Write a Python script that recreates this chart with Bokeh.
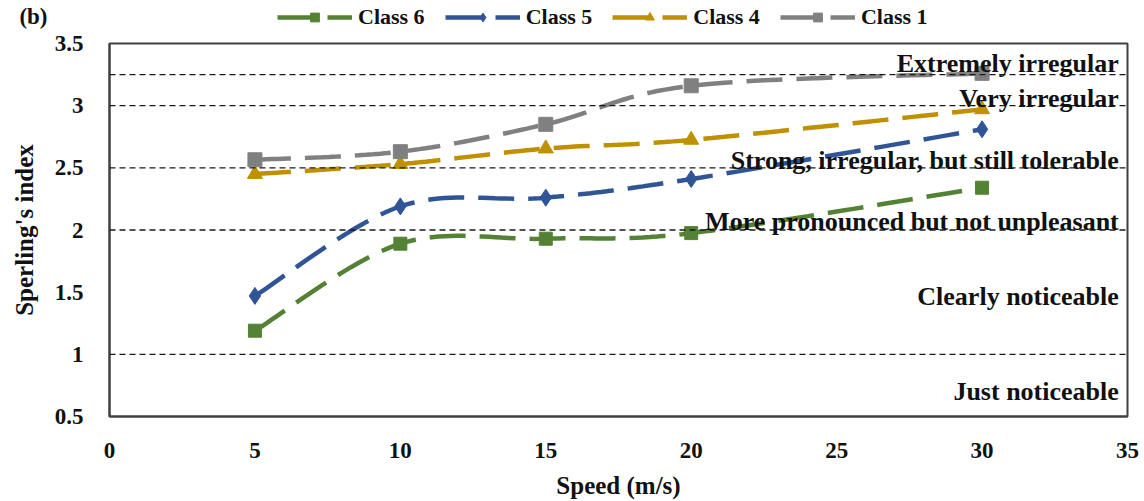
import numpy as np
from bokeh.plotting import figure
from bokeh.layouts import column
from bokeh.models import Span, Label, Legend, LegendItem, FixedTicker, Range1d
from bokeh.embed import file_html
from bokeh.resources import INLINE

# ---- data ----
speed = [5, 10, 15, 20, 30]
class6 = [1.19, 1.89, 1.93, 1.975, 2.34]
class5 = [1.47, 2.19, 2.26, 2.41, 2.81]
class4 = [2.45, 2.53, 2.655, 2.725, 2.97]
class1 = [2.565, 2.63, 2.85, 3.16, 3.26]
series_names = ["Class 6", "Class 5", "Class 4", "Class 1"]
series_values = [class6, class5, class4, class1]
series_colors = ["#548235", "#2F5597", "#BF9000", "#808080"]
series_markers = ["square", "diamond", "triangle", "square"]
series_marker_sizes = [13, 17, 15, 14]

threshold_levels = [1.0, 2.0, 2.5, 3.0, 3.25]
zone_labels = ["Extremely irregular", "Very irregular",
               "Strong, irregular, but still tolerable",
               "More pronounced but not unpleasant",
               "Clearly noticeable", "Just noticeable"]
zone_label_y = [3.34, 3.057, 2.557, 2.07, 1.465, 0.70]

x_ticks = [0, 5, 10, 15, 20, 25, 30, 35]
y_ticks = [0.5, 1.0, 1.5, 2.0, 2.5, 3.0, 3.5]
y_tick_labels = ["0.5", "1", "1.5", "2", "2.5", "3", "3.5"]
panel_tag = "(b)"

FONT = "Liberation Serif"
TXT = "#111111"

W = 1144
HEAD_H = 30
MAIN_H = 501 - HEAD_H
FRAME_L = 109


def smooth(xs, ys, n=24):
    """Excel-like smoothed line (Catmull-Rom as cubic Bezier) through the points."""
    P = np.column_stack([xs, ys]).astype(float)
    E = np.vstack([P[0], P, P[-1]])
    out = []
    t = np.linspace(0, 1, n)[:, None]
    for i in range(len(P) - 1):
        p0, p1, p2, p3 = E[i], E[i + 1], E[i + 2], E[i + 3]
        c1 = p1 + (p2 - p0) / 6.0
        c2 = p2 - (p3 - p1) / 6.0
        b = (1 - t) ** 3 * p1 + 3 * (1 - t) ** 2 * t * c1 + 3 * (1 - t) * t ** 2 * c2 + t ** 3 * p2
        out.append(b if i == 0 else b[1:])
    c = np.vstack(out)
    return c[:, 0], c[:, 1]


# ---------------- main plot ----------------
p = figure(width=W, height=MAIN_H, output_backend="svg", toolbar_location=None,
           x_range=Range1d(0, 35), y_range=Range1d(0.5, 3.5),
           min_border_left=FRAME_L, min_border_right=17,
           min_border_top=43 - HEAD_H, min_border_bottom=MAIN_H - (419 - HEAD_H))
p.background_fill_color = "white"
p.border_fill_color = "white"
p.xgrid.visible = False
p.ygrid.visible = False
p.outline_line_color = "#404040"
p.outline_line_width = 2

for ax in (p.xaxis[0], p.yaxis[0]):
    ax.axis_line_color = "#404040"
    ax.axis_line_width = 2
    ax.major_tick_line_color = None
    ax.minor_tick_line_color = None
    ax.major_tick_out = 0
    ax.major_tick_in = 0
    ax.major_label_text_font = FONT
    ax.major_label_text_font_style = "bold"
    ax.major_label_text_font_size = "23px"
    ax.major_label_text_color = TXT
    ax.axis_label_text_font = FONT
    ax.axis_label_text_font_style = "bold"
    ax.axis_label_text_font_size = "25px"
    ax.axis_label_text_color = TXT

p.xaxis.ticker = FixedTicker(ticks=x_ticks)
p.yaxis.ticker = FixedTicker(ticks=y_ticks)
p.yaxis.major_label_overrides = {v: s for v, s in zip(y_ticks, y_tick_labels)}
p.xaxis.major_label_standoff = 26
p.yaxis.major_label_standoff = 26
p.xaxis.axis_label = "Speed (m/s)"
p.yaxis.axis_label = "Sperling's index"
p.xaxis.axis_label_standoff = 11
p.yaxis.axis_label_standoff = 14

# threshold lines
for lvl in threshold_levels:
    p.add_layout(Span(location=lvl, dimension="width", line_color="#1a1a1a",
                      line_width=1.4, line_dash="6 4"))

# zone labels
for txt, yv in zip(zone_labels, zone_label_y):
    p.add_layout(Label(x=34.7, y=yv, text=txt, text_align="right",
                       text_baseline="alphabetic", text_font=FONT,
                       text_font_style="bold", text_font_size="26px",
                       text_color=TXT))

# series
for name, vals, col, mk, ms in zip(series_names, series_values, series_colors,
                                   series_markers, series_marker_sizes):
    sx, sy = smooth(speed, vals)
    p.line(sx, sy, line_color=col, line_width=4.5, line_dash="36 14")
    p.scatter(speed, vals, marker=mk, size=ms, fill_color=col, line_color=col)

# ---------------- header strip with legend and panel tag ----------------
h = figure(width=W, height=HEAD_H, output_backend="svg", toolbar_location=None,
           x_range=Range1d(0, 1), y_range=Range1d(0, 1), x_axis_type=None,
           min_border_left=FRAME_L, min_border_right=17, min_border_top=0, min_border_bottom=0)
h.outline_line_color = None
h.xgrid.visible = False
h.ygrid.visible = False
h.background_fill_color = "white"
h.border_fill_color = "white"
# the panel tag "(b)" is shown as the header's only y tick label
hy = h.yaxis[0]
hy.ticker = FixedTicker(ticks=[0.36])
hy.major_label_overrides = {0.36: panel_tag}
hy.axis_line_color = None
hy.major_tick_line_color = None
hy.minor_tick_line_color = None
hy.major_tick_out = 0
hy.major_tick_in = 0
hy.major_label_standoff = FRAME_L - 47
hy.major_label_text_font = FONT
hy.major_label_text_font_style = "bold"
hy.major_label_text_font_size = "23px"
hy.major_label_text_color = TXT

items = []
for name, col, mk, ms in zip(series_names, series_colors, series_markers, series_marker_sizes):
    # legend-only renderers: their point lies outside the header's visible range
    lr = h.line(x=[-10, -9], y=[-10, -10], line_color=col, line_width=4.5, line_dash="36 14")
    sr = h.scatter(x=[-10], y=[-10], marker=mk, size=ms, fill_color=col, line_color=col)
    items.append(LegendItem(label=name, renderers=[lr, sr]))

legend = Legend(items=items, orientation="horizontal", location=(277 - FRAME_L, 0),
                border_line_color=None, background_fill_alpha=0,
                padding=0, margin=0, spacing=20, glyph_width=75, glyph_height=22,
                label_height=22, label_standoff=6,
                label_text_font=FONT, label_text_font_style="bold",
                label_text_font_size="22px", label_text_color=TXT)
h.add_layout(legend, "center")

layout = column(h, p, spacing=0)
open("out.html", "w").write(file_html(layout, INLINE))
